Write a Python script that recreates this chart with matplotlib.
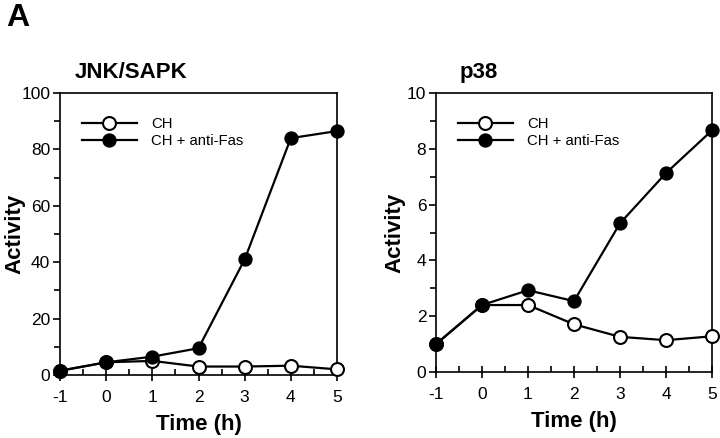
import numpy as np
import matplotlib
matplotlib.use("Agg")
import matplotlib.pyplot as plt
from matplotlib.ticker import MultipleLocator

plt.rcParams['font.family'] = ['Liberation Sans', 'DejaVu Sans']
plt.rcParams['axes.unicode_minus'] = False

# data
time = [-1, 0, 1, 2, 3, 4, 5]
jnk_ch = [1.5, 4.5, 5.0, 3.0, 3.0, 3.3, 2.0]
jnk_fas = [1.5, 4.5, 6.5, 9.5, 41.0, 84.0, 86.5]
p38_ch = [1.0, 2.4, 2.4, 1.71, 1.26, 1.14, 1.28]
p38_fas = [1.0, 2.4, 2.93, 2.54, 5.33, 7.13, 8.66]
labels = ["CH", "CH + anti-Fas"]

fig = plt.figure(figsize=(7.2, 4.38), dpi=100)
ax1 = fig.add_axes([60/720, 63/438, 277/720, 282/438])
ax2 = fig.add_axes([436/720, 66/438, 276/720, 279/438])

fig.text(6/720, 1 - 26/438, "A", fontsize=23, fontweight='bold', ha='left', va='baseline')


def panel(ax, ch, fas, ymax, ystep, title, title_dx, ylab_x):
    ax.plot(time, ch, '-o', color='black', lw=1.6, ms=9.3, mfc='white',
            mec='black', mew=1.5, label=labels[0], clip_on=False, zorder=3)
    ax.plot(time, fas, '-o', color='black', lw=1.6, ms=9.3, mfc='black',
            mec='black', label=labels[1], clip_on=False, zorder=4)
    ax.set_xlim(-1, 5)
    ax.set_ylim(0, ymax)
    ax.xaxis.set_major_locator(MultipleLocator(1))
    ax.xaxis.set_minor_locator(MultipleLocator(0.5))
    ax.yaxis.set_major_locator(MultipleLocator(ystep))
    ax.yaxis.set_minor_locator(MultipleLocator(ystep / 2))
    ax.tick_params(axis='x', which='major', direction='inout', length=8, width=1.2, labelsize=12.5, pad=7)
    ax.tick_params(axis='x', which='minor', direction='in', length=4, width=1.2)
    ax.tick_params(axis='y', which='major', direction='out', length=5, width=1.2, labelsize=12.5, pad=2)
    ax.tick_params(axis='y', which='minor', direction='out', length=4, width=1.2)
    for s in ax.spines.values():
        s.set_linewidth(1.2)
    ax.set_xlabel("Time (h)", fontsize=16, fontweight='bold', labelpad=6)
    ax.set_ylabel("Activity", fontsize=16, fontweight='bold')
    ax.yaxis.set_label_coords(ylab_x, 0.5)
    ax.text(title_dx, 1.035, title, transform=ax.transAxes, fontsize=16,
            fontweight='bold', ha='left', va='bottom')
    ax.legend(loc='upper left', bbox_to_anchor=(0.078, 0.915), frameon=False,
              fontsize=10.7, handlelength=3.7, handletextpad=1.0,
              labelspacing=0.22, borderaxespad=0, borderpad=0)


panel(ax1, jnk_ch, jnk_fas, 100, 20, "JNK/SAPK", 15/277, -0.126)
panel(ax2, p38_ch, p38_fas, 10, 2, "p38", 24/276, -0.112)

fig.savefig("out.png", dpi=100)
